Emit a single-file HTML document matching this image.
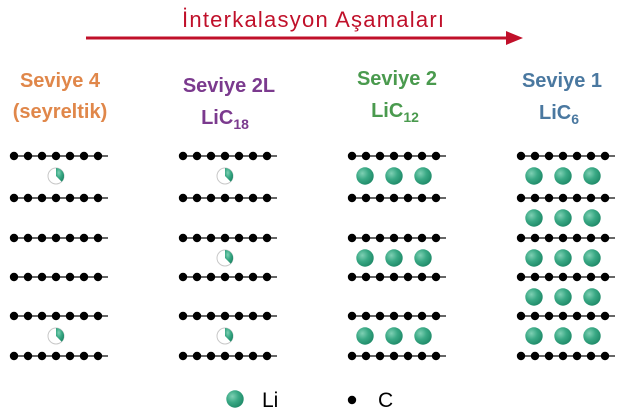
<!DOCTYPE html>
<html><head><meta charset="utf-8"><style>
html,body{margin:0;padding:0;background:#fff;}
svg{display:block;}
text{font-family:"Liberation Sans",sans-serif;}
</style></head><body>
<svg width="621" height="414" viewBox="0 0 621 414" xmlns="http://www.w3.org/2000/svg">
<defs>
<radialGradient id="g" cx="0.35" cy="0.35" r="0.7">
<stop offset="0" stop-color="#7fd0b4"/><stop offset="0.5" stop-color="#3aa985"/><stop offset="1" stop-color="#1f8a68"/>
</radialGradient>
<g id="row">
<line x1="-3" y1="0" x2="94" y2="0" stroke="#333" stroke-width="1.5"/>
<circle cx="0" cy="0" r="4.2" fill="#000"/><circle cx="14" cy="0" r="4.2" fill="#000"/><circle cx="28" cy="0" r="4.2" fill="#000"/><circle cx="42" cy="0" r="4.2" fill="#000"/><circle cx="56" cy="0" r="4.2" fill="#000"/><circle cx="70" cy="0" r="4.2" fill="#000"/><circle cx="84" cy="0" r="4.2" fill="#000"/>
</g>
<g id="li"><circle cx="0" cy="0" r="8.7" fill="url(#g)"/></g>
<g id="tri"><use href="#li" x="13"/><use href="#li" x="42"/><use href="#li" x="71"/></g>
<g id="part"><circle cx="0" cy="0" r="8" fill="#fff" stroke="#c8c8c8" stroke-width="1"/><path d="M0,0 L0,-8 A8,8 0 0 1 5.7,5.7 Z" fill="url(#g)"/></g>
</defs>

<text x="313" y="27" font-size="22" fill="#c0102a" text-anchor="middle" textLength="262">İnterkalasyon Aşamaları</text>
<line x1="86" y1="38" x2="508" y2="38" stroke="#c0102a" stroke-width="3"/>
<polygon points="506,31 523,38 506,45" fill="#c0102a"/>

<g font-size="20" font-weight="bold" text-anchor="middle">
<text x="60" y="87" fill="#e0874a">Seviye 4</text>
<text x="60" y="118" fill="#e0874a">(seyreltik)</text>
<text x="229" y="92" fill="#7b3a8e">Seviye 2L</text>
<text x="225" y="124" fill="#7b3a8e">LiC<tspan font-size="14" dy="5">18</tspan></text>
<text x="397" y="85" fill="#4a9a4e">Seviye 2</text>
<text x="395" y="117" fill="#4a9a4e">LiC<tspan font-size="14" dy="5">12</tspan></text>
<text x="562" y="87" fill="#4a78a0">Seviye 1</text>
<text x="559" y="119" fill="#4a78a0">LiC<tspan font-size="14" dy="5">6</tspan></text>
</g>

<!-- column 1 -->
<g transform="translate(14,0)">
<use href="#row" y="156"/><use href="#row" y="198"/><use href="#row" y="238"/><use href="#row" y="277"/><use href="#row" y="316"/><use href="#row" y="356"/>
</g>
<use href="#part" x="56" y="176"/><use href="#part" x="56" y="336"/>

<!-- column 2 -->
<g transform="translate(183,0)">
<use href="#row" y="156"/><use href="#row" y="198"/><use href="#row" y="238"/><use href="#row" y="277"/><use href="#row" y="316"/><use href="#row" y="356"/>
</g>
<use href="#part" x="225" y="176"/><use href="#part" x="225" y="258"/><use href="#part" x="225" y="336"/>

<!-- column 3 -->
<g transform="translate(352,0)">
<use href="#row" y="156"/><use href="#row" y="198"/><use href="#row" y="238"/><use href="#row" y="277"/><use href="#row" y="316"/><use href="#row" y="356"/>
<use href="#tri" y="176"/><use href="#tri" y="258"/><use href="#tri" y="336"/>
</g>

<!-- column 4 -->
<g transform="translate(521,0)">
<use href="#row" y="156"/><use href="#row" y="198"/><use href="#row" y="238"/><use href="#row" y="277"/><use href="#row" y="316"/><use href="#row" y="356"/>
<use href="#tri" y="176"/><use href="#tri" y="218"/><use href="#tri" y="258"/><use href="#tri" y="297"/><use href="#tri" y="336"/>
</g>

<!-- legend -->
<use href="#li" x="235" y="399"/>
<text x="262" y="407" font-size="21" fill="#000">Li</text>
<circle cx="352" cy="400" r="4.2" fill="#000"/>
<text x="378" y="407" font-size="21" fill="#000">C</text>
</svg>
</body></html>
